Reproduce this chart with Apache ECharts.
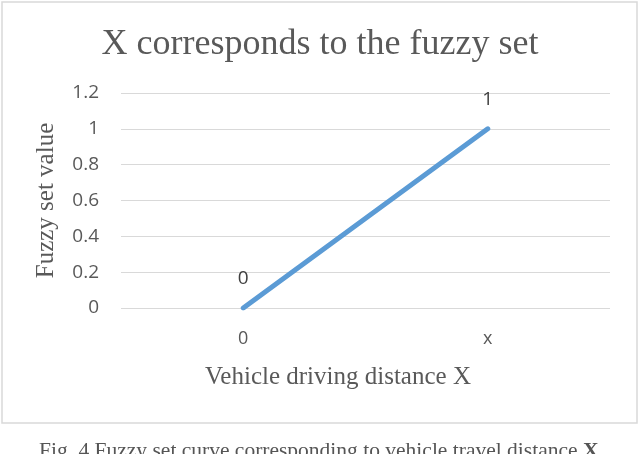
<!DOCTYPE html>
<html>
<head>
<meta charset="utf-8">
<script src="https://cdn.jsdelivr.net/npm/echarts@6/dist/echarts.min.js"></script>
<style>
  html, body { margin: 0; padding: 0; background: #fff; }
  #main { width: 640px; height: 454px; }
</style>
</head>
<body>
<div id="main"></div>
<script>
// chart data
var categories = ['0', 'x'];
var fuzzyValues = [0, 1];
var yTicks = { min: 0, max: 1.2, step: 0.2 };

var serif = '"Liberation Serif", "DejaVu Serif", serif';
var sans = '"Open Sans", "Liberation Sans", sans-serif';

var myChart = echarts.init(document.getElementById('main'));

var option = {
  backgroundColor: '#fff',
  animation: false,
  title: {
    text: 'X corresponds to the fuzzy set',
    left: 'center',
    top: 22,
    textStyle: { fontFamily: serif, fontSize: 36, fontWeight: 'normal', color: '#595959' }
  },
  grid: { left: 121, right: 30, top: 93, bottom: 146 },
  xAxis: {
    type: 'category',
    data: categories,
    boundaryGap: true,
    axisLine: { show: false },
    axisTick: { show: false },
    axisLabel: { margin: 22, fontFamily: sans, fontSize: 18, color: '#595959' },
    name: 'Vehicle driving distance X',
    nameLocation: 'middle',
    nameGap: 57,
    nameTextStyle: { fontFamily: serif, fontSize: 25, color: '#595959', padding: [0, 55, 0, 0] }
  },
  yAxis: {
    type: 'value',
    min: yTicks.min,
    max: yTicks.max,
    interval: yTicks.step,
    axisLine: { show: false },
    axisTick: { show: false },
    axisLabel: { margin: 22, fontFamily: sans, fontSize: 19, color: '#595959' },
    splitLine: { lineStyle: { color: '#d9d9d9', width: 1.2 } },
    name: 'Fuzzy set value',
    nameLocation: 'middle',
    nameGap: 62,
    nameTextStyle: { fontFamily: serif, fontSize: 25, color: '#595959' }
  },
  series: [{
    type: 'line',
    data: fuzzyValues,
    symbol: 'circle',
    symbolSize: 0,
    showSymbol: true,
    lineStyle: { color: '#5b9bd5', width: 5, cap: 'round' },
    itemStyle: { color: '#5b9bd5' },
    label: {
      show: true,
      position: 'top',
      distance: 20,
      fontFamily: sans,
      fontSize: 19,
      color: '#404040'
    }
  }],
  graphic: [
    {
      type: 'rect',
      shape: { x: 2, y: 2, width: 635, height: 421 },
      style: { fill: 'none', stroke: '#d9d9d9', lineWidth: 1.5 },
      silent: true
    },
    {
      type: 'text',
      left: 39,
      top: 440,
      style: {
        text: 'Fig. 4 Fuzzy set curve corresponding to vehicle travel distance {b|X}',
        font: '21.5px ' + serif,
        fill: '#555',
        rich: { b: { fontFamily: serif, fontSize: 21.5, fontWeight: 'bold', fill: '#555' } }
      }
    }
  ]
};

myChart.setOption(option);
</script>
</body>
</html>
